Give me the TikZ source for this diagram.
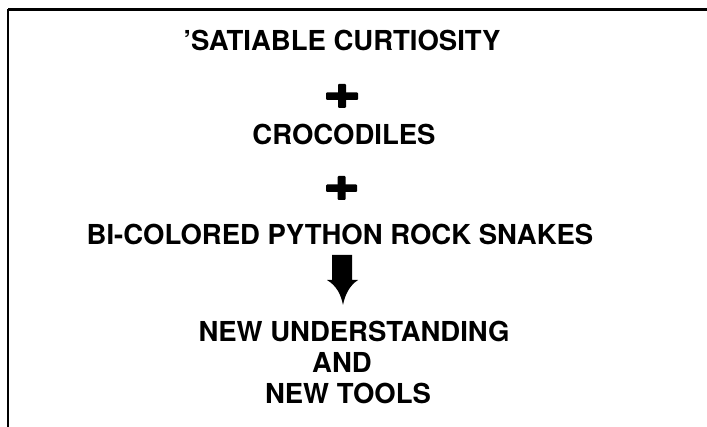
\documentclass[tikz,border=0pt]{standalone}
\usepackage{fontspec}
\setmainfont{TeX Gyre Heros}
\begin{document}
\begin{tikzpicture}[x=1pt,y=-1pt,
  label/.style={anchor=base,inner sep=0pt,font=\fontsize{27.5}{27.5}\selectfont\bfseries},
  plusbar/.style={fill=black,draw=none}]
\useasboundingbox (0,0) rectangle (707,427);
% frame: top rule and left rule
\draw[line width=3pt] (8,10) -- (707,10);
\draw[line width=2pt] (8,9) -- (8,427);
% text lines
\node[label] (t1) at (342,51) {'SATIABLE CURTIOSITY};
\node[label] (t2) at (344,145) {CROCODILES};
\node[label] (t3) at (340,245) {BI-COLORED PYTHON ROCK SNAKES};
\node[label] (t4) at (354,342) {NEW UNDERSTANDING};
\node[label] (t5) at (342,373) {AND};
\node[label] (t6) at (348,404) {NEW TOOLS};
% plus signs
\fill[plusbar, rounded corners=1pt] (326,92.5) rectangle (358,100);
\fill[plusbar, rounded corners=1pt] (338,84) rectangle (346,108);
\fill[plusbar, rounded corners=1pt] (326,184.5) rectangle (357,192);
\fill[plusbar, rounded corners=1pt] (337.5,176) rectangle (345.5,200);
% block arrow
\fill (332,255) -- (352,255) -- (352,280) -- (358,280)
  .. controls (349,286) and (345,295) .. (343,305)
  .. controls (341,295) and (337,286) .. (327,280)
  -- (332,280) -- cycle;
\end{tikzpicture}
\end{document}
